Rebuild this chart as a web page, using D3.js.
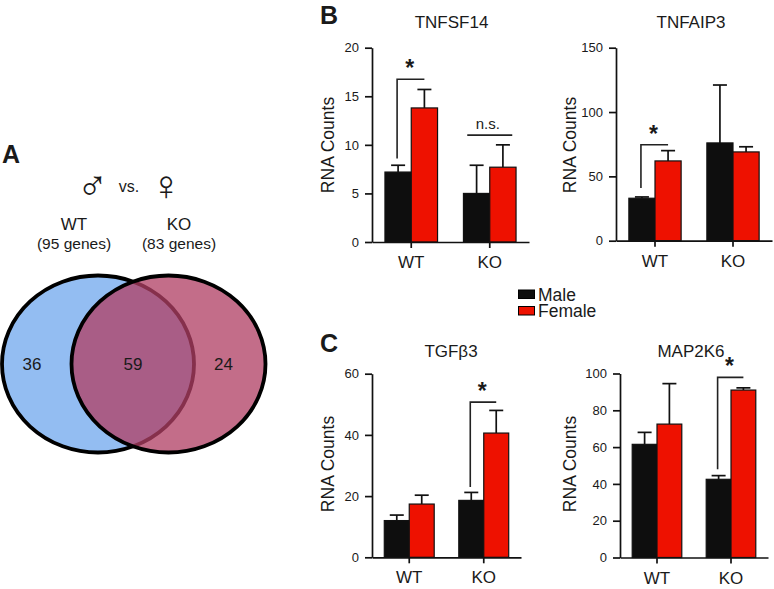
<!DOCTYPE html>
<html>
<head>
<meta charset="utf-8">
<script src="https://d3js.org/d3.v7.min.js"></script>
<style>
  html, body { margin: 0; padding: 0; background: #fff; }
  text { font-family: "Liberation Sans", Arial, sans-serif; fill: #1a1a1a; }
</style>
</head>
<body>
<div id="chart-area"></div>
<script>
// values
var groups = ["WT", "KO"];
var sexes = ["Male", "Female"];
var vennCounts = [36, 59, 24];
var vennLabels = ["WT", "KO"];
var vennGenes = ["(95 genes)", "(83 genes)"];

// [WT male, WT female, KO male, KO female]
var tnfsf14Means = [7.2, 13.8, 5, 7.7];
var tnfsf14Upper = [7.9, 15.7, 7.9, 10];
var tnfaip3Means = [33, 62, 76, 69];
var tnfaip3Upper = [34, 70, 121, 73];
var tgfb3Means = [12, 17.4, 18.6, 40.6];
var tgfb3Upper = [13.8, 20.3, 21.2, 48];
var map2k6Means = [61.5, 72.5, 42.5, 91];
var map2k6Upper = [68, 94.5, 44.5, 92.2];

var tnfsf14Ticks = [0, 5, 10, 15, 20];
var tnfaip3Ticks = [0, 50, 100, 150];
var tgfb3Ticks = [0, 20, 40, 60];
var map2k6Ticks = [0, 20, 40, 60, 80, 100];

var colorMale = "#0e0e0e", colorFemale = "#ee1100";

var svg = d3.select("#chart-area")
    .append("svg")
        .attr("width", 774)
        .attr("height", 589)
        .style("display", "block");

// panel letters
svg.append("text").attr("x", 2).attr("y", 163).attr("font-size", "25px").attr("font-weight", "bold").text("A");
svg.append("text").attr("x", 320).attr("y", 24).attr("font-size", "25px").attr("font-weight", "bold").text("B");
svg.append("text").attr("x", 320).attr("y", 352).attr("font-size", "25px").attr("font-weight", "bold").text("C");

// venn diagram
svg.append("ellipse")
    .attr("cx", 98).attr("cy", 364).attr("rx", 96).attr("ry", 88.5)
    .attr("fill", "#93bdf2")
    .attr("stroke", "#000").attr("stroke-width", 3.8);
svg.append("ellipse")
    .attr("cx", 168.5).attr("cy", 364).attr("rx", 97).attr("ry", 88.5)
    .attr("fill", "#b03f64").attr("fill-opacity", 0.76)
    .attr("stroke", "none");
svg.append("ellipse")
    .attr("cx", 168.5).attr("cy", 364).attr("rx", 97).attr("ry", 88.5)
    .attr("fill", "none")
    .attr("stroke", "#000").attr("stroke-width", 3.8);

var vennX = [32, 133, 223.5];
svg.selectAll(".venn-count")
    .data(vennCounts)
    .enter().append("text")
        .attr("class", "venn-count")
        .attr("x", function(d, i) { return vennX[i]; })
        .attr("y", 370)
        .attr("text-anchor", "middle")
        .attr("font-size", "17px")
        .text(function(d) { return d; });

var vennHeadX = [74, 179];
vennLabels.forEach(function(name, i) {
    svg.append("text")
        .attr("x", vennHeadX[i]).attr("y", 230)
        .attr("text-anchor", "middle").attr("font-size", "17px")
        .text(name);
    svg.append("text")
        .attr("x", vennHeadX[i]).attr("y", 249)
        .attr("text-anchor", "middle").attr("font-size", "15.5px")
        .text(vennGenes[i]);
});

svg.append("text").attr("x", 92.5).attr("y", 200).attr("text-anchor", "middle")
    .attr("font-size", "42px").style("font-family", "DejaVu Sans ExtraLight, DejaVu Sans").attr("font-weight", 200).text("\u2642");
svg.append("text").attr("x", 129).attr("y", 191.5).attr("text-anchor", "middle")
    .attr("font-size", "16px").text("vs.");
svg.append("text").attr("x", 166).attr("y", 200).attr("text-anchor", "middle")
    .attr("font-size", "42px").style("font-family", "DejaVu Sans ExtraLight, DejaVu Sans").attr("font-weight", 200).text("\u2640");

// legend
sexes.forEach(function(name, i) {
    svg.append("rect")
        .attr("x", 518.5).attr("y", 290 + i * 16.5)
        .attr("width", 16).attr("height", 8.5)
        .attr("fill", i == 0 ? colorMale : colorFemale)
        .attr("stroke", "#000").attr("stroke-width", 1);
    svg.append("text")
        .attr("x", 538).attr("y", 300.5 + i * 16.5)
        .attr("font-size", "17.5px")
        .text(name);
});

// one bar chart, p holds where it sits on the page
function drawPanel(p) {
    var g = svg.append("g");

    var y = d3.scaleLinear()
        .domain([0, d3.max(p.ticks)])
        .range([p.bottom, p.top]);

    var x0 = d3.scaleBand()
        .domain(groups)
        .range([p.left, p.right])
        .paddingInner(0.33)
        .paddingOuter(0.165);

    var x1 = d3.scaleBand()
        .domain(sexes)
        .range([0, x0.bandwidth()]);

    var rows = [];
    groups.forEach(function(grp, i) {
        sexes.forEach(function(sex, j) {
            rows.push({ group: grp, sex: sex, mean: p.means[i * 2 + j], upper: p.upper[i * 2 + j] });
        });
    });
    function barX(d) { return x0(d.group) + x1(d.sex); }
    function barMid(d) { return barX(d) + x1.bandwidth() / 2; }

    // error bars, upper side only
    g.selectAll(".stem").data(rows).enter().append("line")
        .attr("x1", barMid).attr("x2", barMid)
        .attr("y1", function(d) { return y(d.mean); })
        .attr("y2", function(d) { return y(d.upper); })
        .attr("stroke", "#111").attr("stroke-width", 1.7);
    g.selectAll(".cap").data(rows).enter().append("line")
        .attr("x1", function(d) { return barMid(d) - 7; })
        .attr("x2", function(d) { return barMid(d) + 7; })
        .attr("y1", function(d) { return y(d.upper); })
        .attr("y2", function(d) { return y(d.upper); })
        .attr("stroke", "#111").attr("stroke-width", 1.7);

    g.selectAll(".bar").data(rows).enter().append("rect")
        .attr("x", barX)
        .attr("y", function(d) { return y(d.mean); })
        .attr("width", x1.bandwidth())
        .attr("height", function(d) { return y(0) - y(d.mean); })
        .attr("fill", function(d) { return d.sex == "Male" ? colorMale : colorFemale; })
        .attr("stroke", "#111").attr("stroke-width", 1.2);

    var yAxis = d3.axisLeft(y)
        .tickValues(p.ticks)
        .tickSizeInner(7).tickSizeOuter(0).tickPadding(6);
    var yG = g.append("g").attr("transform", "translate(" + p.left + ",0)").call(yAxis);
    yG.selectAll("text").attr("font-size", "13px");

    var xAxis = d3.axisBottom(x0)
        .tickSizeInner(6).tickSizeOuter(0).tickPadding(8);
    var xG = g.append("g").attr("transform", "translate(0," + p.bottom + ")").call(xAxis);
    xG.selectAll("text").attr("font-size", "17px");

    g.selectAll(".domain, .tick line").attr("stroke", "#111").attr("stroke-width", 1.7);

    g.append("text")
        .attr("x", p.titleX).attr("y", p.titleY)
        .attr("text-anchor", "middle").attr("font-size", "17px")
        .text(p.title);

    g.append("text")
        .attr("transform", "translate(" + p.labelX + "," + (p.labelY) + ") rotate(-90)")
        .attr("text-anchor", "middle").attr("font-size", "17.5px")
        .text("RNA Counts");

    // significance bracket: from the male bar down to bracketLow, across to the female bar
    if (p.bracketGroup) {
        var left = x0(p.bracketGroup) + x1("Male") + x1.bandwidth() / 2 - 1;
        var right = x0(p.bracketGroup) + x1("Female") + x1.bandwidth() / 2;
        g.append("path")
            .attr("d", d3.line()([[left, y(p.bracketLow)], [left, y(p.bracketTop)], [right, y(p.bracketTop)]]))
            .attr("fill", "none").attr("stroke", "#222").attr("stroke-width", 1.6);
        g.append("text")
            .attr("x", (left + right) / 2 - 1).attr("y", y(p.bracketTop) - 3)
            .attr("text-anchor", "middle").attr("font-size", "23px").attr("font-weight", "bold")
            .text("*");
    }
    if (p.nsGroup) {
        var mid = x0(p.nsGroup) + x0.bandwidth() / 2;
        g.append("line")
            .attr("x1", mid - 22.5).attr("x2", mid + 22.5)
            .attr("y1", y(p.nsLevel)).attr("y2", y(p.nsLevel))
            .attr("stroke", "#222").attr("stroke-width", 1.6);
        g.append("text")
            .attr("x", mid - 2).attr("y", y(p.nsLevel) - 6)
            .attr("text-anchor", "middle").attr("font-size", "15px")
            .text("n.s.");
    }
}

drawPanel({
    title: "TNFSF14", titleX: 451.5, titleY: 28,
    means: tnfsf14Means, upper: tnfsf14Upper, ticks: tnfsf14Ticks,
    left: 372, right: 529, top: 47.7, bottom: 242,
    labelX: 334, labelY: 145,
    bracketGroup: "WT", bracketTop: 16.75, bracketLow: 8.6,
    nsGroup: "KO", nsLevel: 11
});
drawPanel({
    title: "TNFAIP3", titleX: 691, titleY: 28,
    means: tnfaip3Means, upper: tnfaip3Upper, ticks: tnfaip3Ticks,
    left: 616, right: 772, top: 47.7, bottom: 240.7,
    labelX: 576, labelY: 145,
    bracketGroup: "WT", bracketTop: 74.6, bracketLow: 41
});
drawPanel({
    title: "TGF\u03b23", titleX: 451, titleY: 356.7,
    means: tgfb3Means, upper: tgfb3Upper, ticks: tgfb3Ticks,
    left: 372, right: 521, top: 373.7, bottom: 557.3,
    labelX: 334, labelY: 464,
    bracketGroup: "KO", bracketTop: 50.7, bracketLow: 23
});
drawPanel({
    title: "MAP2K6", titleX: 691, titleY: 356.7,
    means: map2k6Means, upper: map2k6Upper, ticks: map2k6Ticks,
    left: 620, right: 768, top: 373.5, bottom: 557.5,
    labelX: 576, labelY: 464,
    bracketGroup: "KO", bracketTop: 97.9, bracketLow: 48
});
</script>
</body>
</html>
